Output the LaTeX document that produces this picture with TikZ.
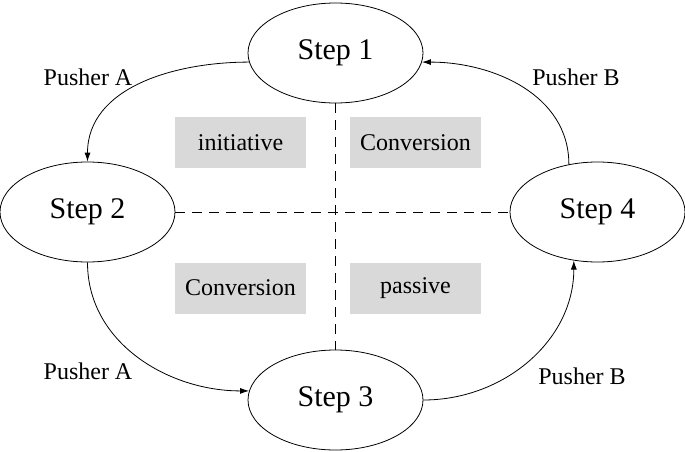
\documentclass[tikz,border=0pt]{standalone}
\usepackage{fontspec}
\setmainfont{Liberation Serif}
\usepackage{tikz}
\usetikzlibrary{shapes.geometric,arrows.meta}
\definecolor{boxgray}{RGB}{217, 217, 217}

\begin{document}
\begin{tikzpicture}[
    x=1pt,
    y=1pt,
    stepnode/.style={ellipse, draw, line width=0.8pt, inner sep=0pt,
        minimum width=175pt, minimum height=100pt,
        font=\fontsize{30}{36}\selectfont},
    areabox/.style={fill=boxgray, inner sep=0pt,
        minimum width=131pt, minimum height=51pt,
        font=\fontsize{24}{29}\selectfont},
    pusherlabel/.style={font=\fontsize{24}{29}\selectfont},
    pushline/.style={line width=0.8pt, -{Latex[length=9pt,width=6pt]}},
    splitline/.style={line width=0.8pt, dash pattern=on 10pt off 7pt}
]
    \useasboundingbox (0,0) rectangle (685,451);

    % Steps
    \node[stepnode] (s1) at (335.5,398) {Step 1};
    \node[stepnode] (s2) at (87.5,239) {Step 2};
    \node[stepnode] (s3) at (335.5,51) {Step 3};
    \node[stepnode] (s4) at (597.5,239) {Step 4};

    % Quadrants
    \draw[splitline] (s1.south) -- (s3.north);
    \draw[splitline] (s2.east) -- (s4.west);
    \node[areabox] (init) at (240.5,308.5) {initiative};
    \node[areabox] (convtop) at (415.5,308.5) {Conversion};
    \node[areabox] (convbot) at (240.5,163) {Conversion};
    \node[areabox] (pass) at (415.5,163) {passive};

    % Pushers
    \draw[pushline] (s1.186) to[out=180, in=90] (s2.north);
    \draw[pushline] (s2.south) to[out=-90, in=180] (s3.174);
    \draw[pushline] (s3.east) to[out=0, in=-90] (s4.244);
    \draw[pushline] (s4.121) to[out=90, in=0] (s1.-6);
    \node[pusherlabel] (pa1) at (88,374) {Pusher A};
    \node[pusherlabel] (pb1) at (576,374) {Pusher B};
    \node[pusherlabel] (pa2) at (88,80) {Pusher A};
    \node[pusherlabel] (pb2) at (582,75) {Pusher B};
\end{tikzpicture}
\end{document}
